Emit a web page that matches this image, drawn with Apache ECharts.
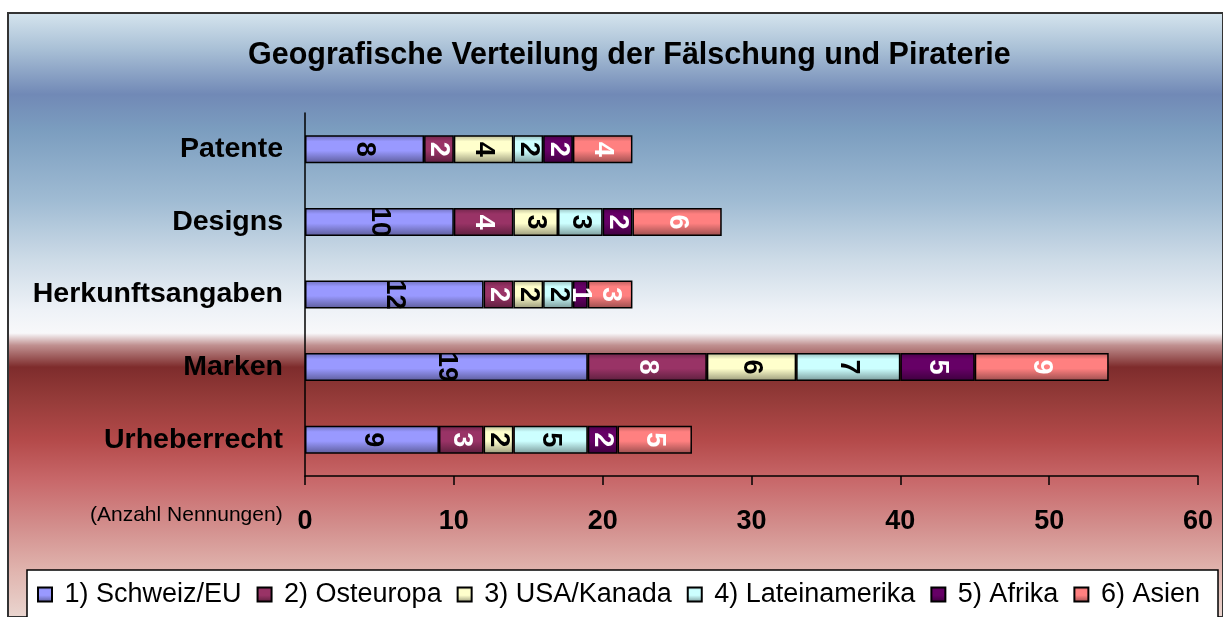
<!DOCTYPE html>
<html>
<head>
<meta charset="utf-8">
<script src="https://cdn.jsdelivr.net/npm/echarts@6/dist/echarts.min.js"></script>
<style>
  html, body { margin: 0; padding: 0; background: #ffffff; }
  #chart { width: 1223px; height: 617px; }
</style>
</head>
<body>
<div id="chart"></div>
<script>
const categories = ['Patente', 'Designs', 'Herkunftsangaben', 'Marken', 'Urheberrecht'];
const regions = ['1) Schweiz/EU', '2) Osteuropa', '3) USA/Kanada', '4) Lateinamerika', '5) Afrika', '6) Asien'];
const schweizEU = [8, 10, 12, 19, 9];
const osteuropa = [2, 4, 2, 8, 3];
const usaKanada = [4, 3, 2, 6, 2];
const lateinamerika = [2, 3, 2, 7, 5];
const afrika = [2, 2, 1, 5, 2];
const asien = [4, 6, 3, 9, 5];
const xTicks = [0, 10, 20, 30, 40, 50, 60];

const seriesValues = [schweizEU, osteuropa, usaKanada, lateinamerika, afrika, asien];
const baseColors = ['#9999ff', '#993366', '#ffffcc', '#ccffff', '#660066', '#ff8080'];
const labelColors = ['#000', '#fff', '#000', '#000', '#fff', '#fff'];

// darken a hex colour by factor
function shade(hex, f) {
  const n = parseInt(hex.slice(1), 16);
  const r = Math.round(((n >> 16) & 255) * f);
  const g = Math.round(((n >> 8) & 255) * f);
  const b = Math.round((n & 255) * f);
  return `rgb(${r},${g},${b})`;
}

function barFill(hex) {
  return new echarts.graphic.LinearGradient(0, 0, 0, 1, [
    { offset: 0, color: shade(hex, 0.72) },
    { offset: 0.22, color: hex },
    { offset: 0.55, color: hex },
    { offset: 1, color: shade(hex, 0.6) }
  ]);
}

const chart = echarts.init(document.getElementById('chart'));

const series = regions.map((name, i) => ({
  name: name,
  type: 'bar',
  stack: 'total',
  barWidth: 28,
  data: seriesValues[i],
  itemStyle: { color: barFill(baseColors[i]), borderColor: '#000', borderWidth: 1.5 },
  label: {
    show: true,
    position: 'inside',
    rotate: -90,
    align: 'center',
    verticalAlign: 'middle',
    color: labelColors[i],
    fontFamily: 'Liberation Sans, Arial, sans-serif',
    fontWeight: 'bold',
    fontSize: 27
  }
}));

chart.setOption({
  animation: false,
  graphic: [
    {
      type: 'rect', z: -10, silent: true,
      shape: { x: 8, y: 13, width: 1215, height: 604 },
      style: {
        fill: new echarts.graphic.LinearGradient(0, 0, 0, 1, [
          { offset: 0, color: '#d6e5ee' },
          { offset: 0.061, color: '#a9c0d6' },
          { offset: 0.136, color: '#7189b6' },
          { offset: 0.194, color: '#7b9dbf' },
          { offset: 0.31, color: '#9fbbd3' },
          { offset: 0.409, color: '#cddbe7' },
          { offset: 0.492, color: '#eef2f7' },
          { offset: 0.53, color: '#f8f8fa' },
          { offset: 0.55, color: '#c09090' },
          { offset: 0.586, color: '#7e2c2c' },
          { offset: 0.641, color: '#963c3a' },
          { offset: 0.707, color: '#b44a4a' },
          { offset: 0.773, color: '#c8686a' },
          { offset: 0.856, color: '#d49290' },
          { offset: 0.922, color: '#e0b4ae' },
          { offset: 1, color: '#ead6d0' }
        ]),
        stroke: '#333', lineWidth: 2
      }
    },
    {
      type: 'rect', z: -5, silent: true,
      shape: { x: 27, y: 570, width: 1191, height: 60 },
      style: { fill: '#fff', stroke: '#000', lineWidth: 1.5 }
    },
    {
      type: 'text', silent: true,
      left: 90, top: 505,
      style: {
        text: '(Anzahl Nennungen)',
        fill: '#000',
        font: '21px "Liberation Sans", Arial, sans-serif'
      }
    }
  ],
  title: {
    text: 'Geografische Verteilung der Fälschung und Piraterie',
    left: 243,
    top: 35,
    textStyle: {
      color: '#000',
      fontFamily: 'Liberation Sans, Arial, sans-serif',
      fontWeight: 'bold',
      fontSize: 30.5
    }
  },
  legend: {
    data: regions,
    left: 37,
    top: 581,
    itemWidth: 14,
    itemHeight: 14,
    itemGap: 15,
    padding: 0,
    icon: 'rect',
    formatter: n => ' ' + n,
    textStyle: {
      color: '#000',
      fontFamily: 'Liberation Sans, Arial, sans-serif',
      fontSize: 27
    }
  },
  grid: { left: 305, right: 25, top: 113, bottom: 141, containLabel: false },
  xAxis: {
    type: 'value',
    min: xTicks[0],
    max: xTicks[xTicks.length - 1],
    interval: 10,
    axisLine: { show: true, lineStyle: { color: '#000', width: 1.5 } },
    axisTick: { show: true, length: 9, lineStyle: { color: '#000', width: 1.5 } },
    splitLine: { show: false },
    axisLabel: {
      margin: 32,
      color: '#000',
      fontFamily: 'Liberation Sans, Arial, sans-serif',
      fontWeight: 'bold',
      fontSize: 27
    }
  },
  yAxis: {
    type: 'category',
    inverse: true,
    data: categories,
    axisLine: { show: true, lineStyle: { color: '#000', width: 1.5 } },
    axisTick: { show: false },
    axisLabel: {
      margin: 22,
      color: '#000',
      fontFamily: 'Liberation Sans, Arial, sans-serif',
      fontWeight: 'bold',
      fontSize: 28.5
    }
  },
  series: series
});
</script>
</body>
</html>
